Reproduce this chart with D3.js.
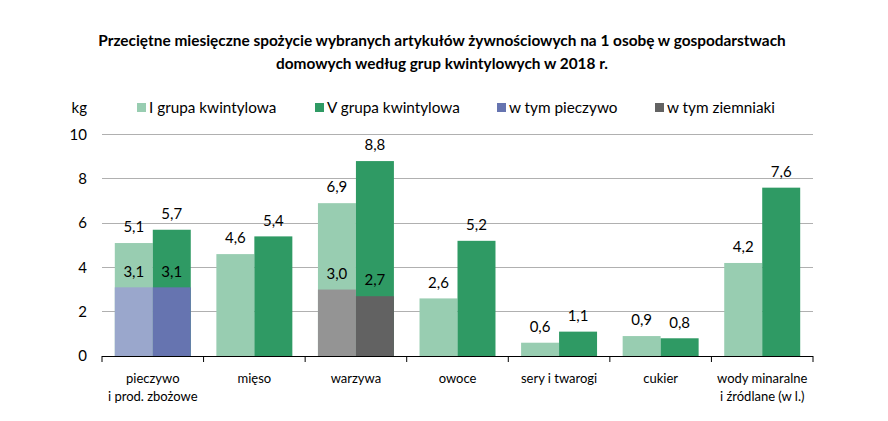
<!DOCTYPE html>
<html><head><meta charset="utf-8">
<script src="https://cdn.jsdelivr.net/npm/d3@7"></script>
<style>
body{margin:0;background:#fff;}
svg{display:block;font-family:Lato,"Open Sans",sans-serif;}
</style></head>
<body><svg id="c" width="888" height="421"></svg>
<script>
const titleLines = ["Przeciętne miesięczne spożycie wybranych artykułów żywnościowych na 1 osobę w gospodarstwach","domowych według grup kwintylowych w 2018 r."];
const categories = [["pieczywo","i prod. zbożowe"],["mięso"],["warzywa"],["owoce"],["sery i twarogi"],["cukier"],["wody minaralne","i źródlane (w l.)"]];
const seriesNames = ["I grupa kwintylowa","V grupa kwintylowa","w tym pieczywo","w tym ziemniaki"];
const groupI = [5.1,4.6,6.9,2.6,0.6,0.9,4.2];
const groupV = [5.7,5.4,8.8,5.2,1.1,0.8,7.6];
const subCategoryIndex = [0,2];
const subI = [3.1,3.0];
const subV = [3.1,2.7];
const yTicks = [0,2,4,6,8,10];
const yUnit = "kg";

const colI = "#98cdb1", colV = "#2f9a64";
const subColors = [["#9aa7cc","#6674b0"],["#949494","#626262"]];

const svg = d3.select("#c");
const x0 = d3.scaleBand().domain(d3.range(categories.length)).range([102,813]).paddingInner(0).paddingOuter(0);
const x1 = d3.scaleBand().domain([0,1]).range([0,x0.bandwidth()]).paddingInner(0).paddingOuter(0.337);
const y = d3.scaleLinear().domain([0,10]).range([356,134.5]);
const fmt = v => d3.format(".1f")(v).replace(".",",");

// title
svg.append("g").selectAll("text").data(titleLines).join("text")
  .attr("x",442).attr("y",(d,i)=>46+i*23).attr("text-anchor","middle")
  .attr("font-size",15.4).attr("font-weight","bold").attr("fill","#000").text(d=>d);

// gridlines
svg.append("g").selectAll("line").data(yTicks.filter(t=>t>0)).join("line")
  .attr("x1",102).attr("x2",813).attr("y1",d=>y(d)).attr("y2",d=>y(d))
  .attr("stroke","#b0b0b0").attr("stroke-width",1).attr("shape-rendering","crispEdges");

// y labels
svg.append("g").selectAll("text").data(yTicks).join("text")
  .attr("x",87).attr("y",d=>y(d)).attr("dy","0.35em").attr("text-anchor","end")
  .attr("font-size",15).attr("fill","#000").text(d=>d);
svg.append("text").attr("x",87).attr("y",108).attr("dy","0.35em").attr("text-anchor","end")
  .attr("font-size",15).attr("fill","#000").text(yUnit);

// bars
const g = svg.append("g");
categories.forEach((c,i)=>{
  [groupI[i],groupV[i]].forEach((v,j)=>{
    g.append("rect").attr("x",x0(i)+x1(j)).attr("width",x1.bandwidth())
      .attr("y",y(v)).attr("height",y(0)-y(v)).attr("fill",j?colV:colI);
    g.append("text").attr("x",x0(i)+x1(j)+x1.bandwidth()/2).attr("y",y(v)-16).attr("dy","0.35em")
      .attr("text-anchor","middle").attr("font-size",15).attr("fill","#000").text(fmt(v));
  });
});
subCategoryIndex.forEach((ci,k)=>{
  [subI[k],subV[k]].forEach((v,j)=>{
    g.append("rect").attr("x",x0(ci)+x1(j)).attr("width",x1.bandwidth())
      .attr("y",y(v)).attr("height",y(0)-y(v)).attr("fill",subColors[k][j]);
    g.append("text").attr("x",x0(ci)+x1(j)+x1.bandwidth()/2).attr("y",y(v)-16).attr("dy","0.35em")
      .attr("text-anchor","middle").attr("font-size",15).attr("fill","#000").text(fmt(v));
  });
});

// x axis
const ax = svg.append("g");
ax.append("line").attr("x1",102).attr("x2",813).attr("y1",356.5).attr("y2",356.5).attr("stroke","#000").attr("stroke-width",1);
ax.selectAll("line.t").data(d3.range(categories.length+1)).join("line").attr("class","t")
  .attr("x1",d=>102+d*x0.bandwidth()).attr("x2",d=>102+d*x0.bandwidth())
  .attr("y1",356).attr("y2",362).attr("stroke","#000").attr("stroke-width",1);
categories.forEach((c,i)=>{
  c.forEach((line,l)=>{
    ax.append("text").attr("x",x0(i)+x0.bandwidth()/2).attr("y",378+l*18).attr("dy","0.35em")
      .attr("text-anchor","middle").attr("font-size",13).attr("fill","#000").text(line);
  });
});

// legend
const legColors = [colI,colV,subColors[0][1],subColors[1][1]];
const legX = [137,315,497,655];
const lg = svg.append("g");
seriesNames.forEach((n,i)=>{
  lg.append("rect").attr("x",legX[i]).attr("y",103).attr("width",9).attr("height",9).attr("fill",legColors[i]);
  lg.append("text").attr("x",legX[i]+12).attr("y",108).attr("dy","0.35em").attr("font-size",15.3).attr("fill","#000").text(n);
});
</script></body></html>
